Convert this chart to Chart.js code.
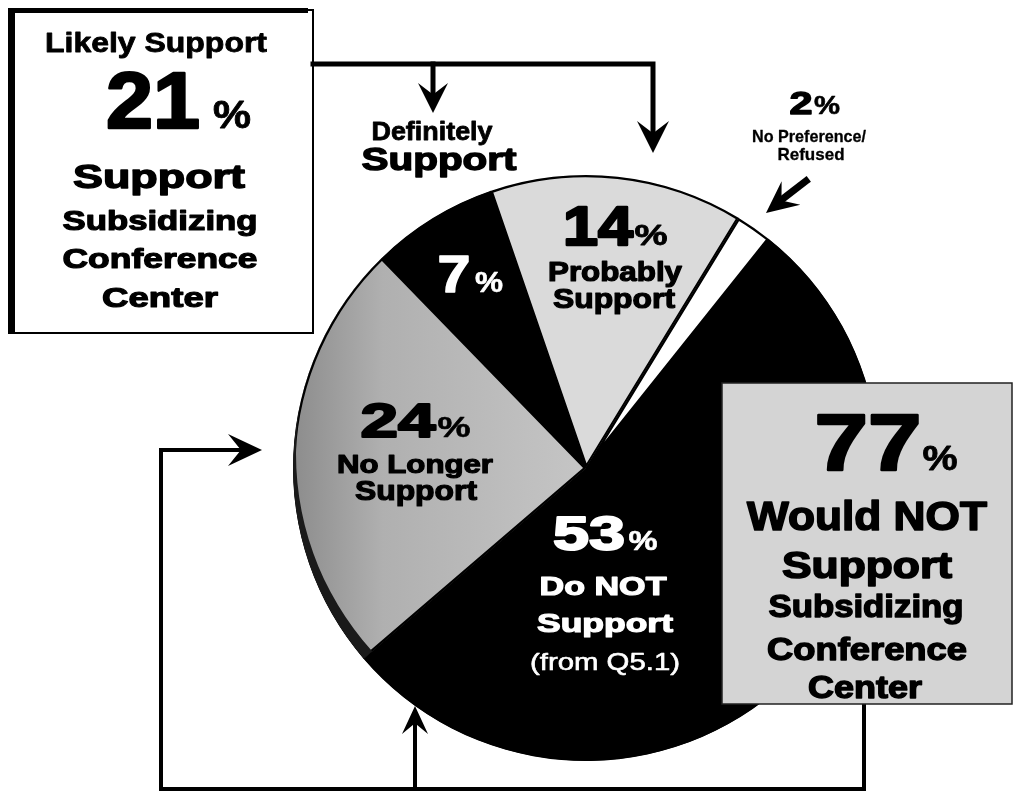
<!DOCTYPE html>
<html>
<head>
<meta charset="utf-8">
<title>Support for subsidizing the conference center</title>
<script src="https://cdn.jsdelivr.net/npm/chart.js@4.4.1/dist/chart.umd.min.js"></script>
<style>
  html, body { margin: 0; padding: 0; background: #fff; }
  #wrap { width: 1014px; height: 796px; position: relative; }
</style>
</head>
<body>
<div id="wrap"><canvas id="pie" width="1014" height="796"></canvas></div>
<script>
// slices, clockwise from the "Probably Support" wedge
const categories = ["Probably Support", "No Preference/Refused", "Do NOT Support (from Q5.1)", "No Longer Support", "Definitely Support"];
const shares = [14, 2, 53, 24, 7];
const supportGroup = ["Probably Support", "Definitely Support"];
const notSupportGroup = ["Do NOT Support (from Q5.1)", "No Longer Support"];

const share = name => shares[categories.indexOf(name)];
const sum = names => names.reduce((a, n) => a + share(n), 0);

const FONT = '"Liberation Sans", Arial, sans-serif';

// draw text centred on cx, squeezed/stretched to width w
function txt(ctx, s, cx, base, size, w, color, weight, heavy) {
  ctx.save();
  ctx.font = (weight || "bold") + " " + size + "px " + FONT;
  const m = ctx.measureText(s).width;
  ctx.translate(cx, base);
  ctx.scale(w / m, 1);
  ctx.textAlign = "center";
  ctx.textBaseline = "alphabetic";
  ctx.fillStyle = color;
  ctx.fillText(s, 0, 0);
  if (heavy) {
    ctx.strokeStyle = color;
    ctx.lineWidth = heavy;
    ctx.lineJoin = "round";
    ctx.strokeText(s, 0, 0);
  }
  ctx.restore();
}

function line(ctx, pts, w) {
  ctx.beginPath();
  ctx.moveTo(pts[0][0], pts[0][1]);
  for (let i = 1; i < pts.length; i++) ctx.lineTo(pts[i][0], pts[i][1]);
  ctx.lineWidth = w;
  ctx.strokeStyle = "#000";
  ctx.lineCap = "square";
  ctx.stroke();
}

// filled arrow head with a notched back; (x, y) is the tip, ang the pointing direction
function head(ctx, x, y, ang, len, half) {
  ctx.save();
  ctx.translate(x, y);
  ctx.rotate(ang);
  ctx.beginPath();
  ctx.moveTo(0, 0);
  ctx.lineTo(-len, -half);
  ctx.lineTo(-len * 0.62, 0);
  ctx.lineTo(-len, half);
  ctx.closePath();
  ctx.fillStyle = "#000";
  ctx.fill();
  ctx.restore();
}

// slice fills; "No Longer" gets darker toward the left rim
function sliceFill(context) {
  const name = categories[context.dataIndex];
  if (name === "Probably Support") return "#dadada";
  if (name === "No Preference/Refused") return "#ffffff";
  if (name === "No Longer Support") {
    const { ctx, chartArea } = context.chart;
    if (!chartArea) return "#b4b4b4";
    const g = ctx.createLinearGradient(chartArea.left, 0, chartArea.left + 300, 0);
    g.addColorStop(0, "#8c8c8c");
    g.addColorStop(0.3, "#b0b0b0");
    g.addColorStop(1, "#c6c6c6");
    return g;
  }
  return "#000000";
}

// thin dark side wall along the lower-left rim (tilted pie look)
const rim = {
  id: "rim",
  afterDatasetsDraw(chart) {
    const arc = chart.getDatasetMeta(0).data[categories.indexOf("No Longer Support")];
    if (!arc) return;
    const { x, y, startAngle, endAngle, outerRadius } = arc.getProps(["x", "y", "startAngle", "endAngle", "outerRadius"], true);
    const ctx = chart.ctx;
    ctx.save();
    ctx.beginPath();
    ctx.moveTo(x, y);
    ctx.arc(x, y, outerRadius, startAngle, endAngle);
    ctx.closePath();
    ctx.clip();
    ctx.beginPath();
    ctx.arc(x, y, outerRadius, 0, Math.PI * 2);
    ctx.arc(x + 3, y - 14, outerRadius, 0, Math.PI * 2, true);
    ctx.fillStyle = "#1a1a1a";
    ctx.fill("evenodd");
    ctx.restore();
  }
};

const decor = {
  id: "decor",
  afterDraw(chart) {
    const ctx = chart.ctx;

    // left box
    ctx.fillStyle = "#fff";
    ctx.fillRect(10, 10, 303, 323);
    ctx.strokeStyle = "#000";
    ctx.lineWidth = 2;
    ctx.strokeRect(10, 10, 303, 323);
    ctx.fillStyle = "#000";
    ctx.fillRect(8, 8, 7, 326);
    ctx.fillRect(8, 8, 300, 5);

    // top connector
    line(ctx, [[313, 64], [653, 64], [653, 140]], 5);
    line(ctx, [[433, 64], [433, 100]], 5);
    head(ctx, 433, 113, Math.PI / 2, 30, 15);
    head(ctx, 653, 153, Math.PI / 2, 32, 16);

    // left / bottom connector
    line(ctx, [[245, 450], [161, 450], [161, 789], [864, 789], [864, 704]], 4);
    head(ctx, 262, 450, 0, 34, 16);
    line(ctx, [[415, 789], [415, 722]], 4);
    head(ctx, 415, 706, -Math.PI / 2, 28, 13);

    // arrow to the 2% wedge
    line(ctx, [[806, 181], [780, 201]], 7);
    head(ctx, 766, 213, Math.atan2(32, -40), 32, 15);

    // right box
    ctx.fillStyle = "#d4d4d4";
    ctx.fillRect(722, 383, 290, 321);
    ctx.strokeStyle = "#222";
    ctx.lineWidth = 1.5;
    ctx.strokeRect(722, 383, 290, 321);

    const support = sum(supportGroup);
    const notSupport = sum(notSupportGroup);
    const B = "#000", W = "#fff";

    // left box text
    txt(ctx, "Likely Support", 156, 52, 27, 222, B, "bold", 0.8);
    txt(ctx, String(support), 153, 128, 80, 94, B, "bold", 2.5);
    txt(ctx, "%", 232, 128, 38, 38, B, "bold", 0.8);
    txt(ctx, "Support", 159, 188, 34, 172, B, "bold", 1.4);
    txt(ctx, "Subsidizing", 160, 230, 28, 195, B, "bold", 1.2);
    txt(ctx, "Conference", 160, 268, 28, 195, B, "bold", 1.2);
    txt(ctx, "Center", 160, 307, 28, 116, B, "bold", 1.2);

    // top labels
    txt(ctx, "Definitely", 432, 140, 25, 121, B, "bold", 0.8);
    txt(ctx, "Support", 439, 170, 32, 155, B, "bold", 1.4);

    txt(ctx, String(share("No Preference/Refused")), 801, 114, 31, 23, B, "bold", 1.4);
    txt(ctx, "%", 827, 114, 25, 26, B, "bold", 0.6);
    txt(ctx, "No Preference/", 809, 142, 17, 114, B, "bold", 0.3);
    txt(ctx, "Refused", 811, 160, 17, 67, B, "bold", 0.3);

    // wedge labels
    txt(ctx, String(share("Probably Support")), 598, 245, 56, 70, B, "bold", 2.5);
    txt(ctx, "%", 651, 245, 30, 33, B, "bold", 0.8);
    txt(ctx, "Probably", 615, 281, 27, 134, B, "bold", 1.2);
    txt(ctx, "Support", 614, 308, 27, 122, B, "bold", 1.2);

    txt(ctx, String(share("Definitely Support")), 454, 292, 52, 33, W, "bold", 1.5);
    txt(ctx, "%", 489, 292, 30, 28, W, "bold", 0.6);

    txt(ctx, String(share("No Longer Support")), 398, 437, 49, 75, B, "bold", 2.2);
    txt(ctx, "%", 454, 437, 30, 33, B, "bold", 0.6);
    txt(ctx, "No Longer", 415, 473, 26, 156, B, "bold", 1.2);
    txt(ctx, "Support", 416, 500, 27, 122, B, "bold", 1.2);

    txt(ctx, String(share("Do NOT Support (from Q5.1)")), 589, 550, 49, 72, W, "bold", 2.0);
    txt(ctx, "%", 643, 550, 28, 29, W, "bold", 0.6);
    txt(ctx, "Do NOT", 603, 595, 26, 127, W, "bold", 1.2);
    txt(ctx, "Support", 605, 632, 26, 136, W, "bold", 1.2);
    txt(ctx, "(from Q5.1)", 605, 670, 24, 150, W, "normal", 0.6);

    // right box text
    txt(ctx, String(notSupport), 868, 470, 80, 107, B, "bold", 2.5);
    txt(ctx, "%", 940, 470, 35, 35, B, "bold", 0.8);
    txt(ctx, "Would NOT", 867, 530, 41, 240, B, "bold", 1.6);
    txt(ctx, "Support", 867, 578, 37, 170, B, "bold", 1.6);
    txt(ctx, "Subsidizing", 866, 617, 31, 195, B, "bold", 1.4);
    txt(ctx, "Conference", 867, 660, 31, 200, B, "bold", 1.4);
    txt(ctx, "Center", 865, 698, 31, 114, B, "bold", 1.4);
  }
};

new Chart(document.getElementById("pie"), {
  type: "pie",
  data: {
    labels: categories,
    datasets: [{
      data: shares,
      backgroundColor: sliceFill,
      borderColor: "#000",
      borderWidth: 2,
      borderAlign: "inner"
    }]
  },
  options: {
    responsive: false,
    animation: false,
    rotation: -19,
    layout: { padding: { left: 293, top: 175, right: 135, bottom: 35 } },
    plugins: { legend: { display: false }, tooltip: { enabled: false } },
    events: []
  },
  plugins: [rim, decor]
});
</script>
</body>
</html>
